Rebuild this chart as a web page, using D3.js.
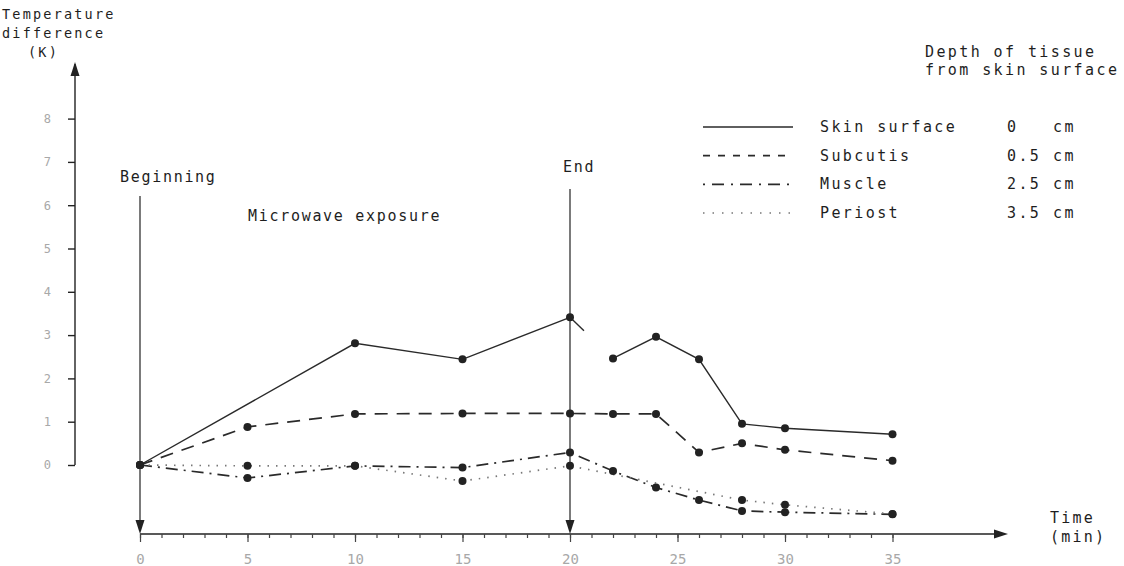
<!DOCTYPE html>
<html>
<head>
<meta charset="utf-8">
<script src="https://cdn.jsdelivr.net/npm/d3@7"></script>
<style>
  body { margin: 0; background: #fff; }
  svg text { font-family: 'DejaVu Sans Mono', monospace; fill: #1e1e1e; }
</style>
</head>
<body>
<svg id="chart" width="1124" height="566"></svg>
<script>
// time points (min)
let times = [0, 5, 10, 15, 20, 22, 24, 26, 28, 30, 35]

// temperature difference (K), null = no measurement
let skin = [0, null, 2.81, 2.44, 3.41, 2.46, 2.96, 2.44, 0.95, 0.85, 0.71]
let subcutis = [0, 0.88, 1.18, 1.19, 1.19, 1.18, 1.18, 0.29, 0.5, 0.35, 0.1]
let muscle = [0, -0.3, -0.02, -0.06, 0.29, -0.14, -0.52, -0.81, -1.06, -1.09, -1.14]
let periost = [0, -0.02, -0.02, -0.37, -0.02, null, null, null, -0.81, -0.92, -1.13]

// short stray stroke after the skin value at 20 min
let skinSpur = [[20, 3.41], [20.65, 3.1]]

let seriesNames = ['Skin surface', 'Subcutis', 'Muscle', 'Periost']
let depths = ['0', '0.5', '2.5', '3.5']

let xTicks = d3.range(0, 36)
let xLabels = d3.range(0, 36, 5)
let yTicks = d3.range(0, 9)

let svg = d3.select('#chart')

let x = d3.scaleLinear().domain([0, 35]).range([140, 892.5])
let y = d3.scaleLinear().domain([0, 8]).range([465, 118.6])

let axisY = 534
let ink = '#2a2a2a'

let styles = [
  { dash: null, width: 1.4, color: ink, legendDash: null },
  { dash: '13,9', width: 1.7, color: ink, legendDash: '7,8' },
  { dash: '12,6,2,6', width: 1.7, color: ink, legendDash: '2,7,12,7' },
  { dash: '1.5,7', width: 1.7, color: '#777', legendDash: '1.5,8' }
]

let allValues = [skin, subcutis, muscle, periost]
// the skin curve is broken between 20 and 22 min
let gapAfter = [20, null, null, null]

let line = d3.line().x(d => x(d.t)).y(d => y(d.v))

// arrowheads
function arrow(tip, dir, len, half) {
  let [tx, ty] = tip
  let pts
  if (dir === 'up') pts = [[tx, ty], [tx - half, ty + len], [tx + half, ty + len]]
  if (dir === 'down') pts = [[tx, ty], [tx - half, ty - len], [tx + half, ty - len]]
  if (dir === 'right') pts = [[tx, ty], [tx - len, ty - half], [tx - len, ty + half]]
  svg.append('path')
    .attr('d', 'M' + pts.join('L') + 'Z')
    .attr('fill', '#222')
}

// y axis
svg.append('line')
  .attr('x1', 75).attr('x2', 75)
  .attr('y1', y(0)).attr('y2', 64)
  .attr('stroke', '#222').attr('stroke-width', 1.4)
arrow([75, 62], 'up', 14, 4.5)

let yAxis = svg.append('g')
  .attr('transform', 'translate(75,0)')
  .call(d3.axisLeft(y).tickValues(yTicks).tickSize(7).tickPadding(17).tickFormat(d3.format('d')))
yAxis.select('.domain').remove()
yAxis.selectAll('line').attr('stroke', '#222').attr('stroke-width', 1.4)
yAxis.selectAll('text')
  .style('fill', '#a8a8a8')
  .attr('font-size', 12)

// x axis
svg.append('line')
  .attr('x1', x(0)).attr('x2', 1000)
  .attr('y1', axisY).attr('y2', axisY)
  .attr('stroke', '#222').attr('stroke-width', 1.4)
arrow([1008, axisY], 'right', 14, 4.5)

let xMinor = svg.append('g')
  .attr('transform', `translate(0,${axisY})`)
  .call(d3.axisBottom(x).tickValues(xTicks).tickSize(4).tickFormat(''))
xMinor.select('.domain').remove()
xMinor.selectAll('line').attr('stroke', '#444').attr('stroke-width', 1.2)

let xMajor = svg.append('g')
  .attr('transform', `translate(0,${axisY})`)
  .call(d3.axisBottom(x).tickValues(xLabels).tickSize(8).tickPadding(12).tickFormat(d3.format('d')))
xMajor.select('.domain').remove()
xMajor.selectAll('line').attr('stroke', '#444').attr('stroke-width', 1.2)
xMajor.selectAll('text')
  .style('fill', '#a8a8a8')
  .attr('font-size', 14)

// axis titles
let yTitle = svg.append('text')
  .attr('font-size', 13.5)
  .style('letter-spacing', '2.2px')
yTitle.append('tspan').attr('x', 2).attr('y', 19).text('Temperature')
yTitle.append('tspan').attr('x', 2).attr('y', 38).text('difference')
yTitle.append('tspan').attr('x', 28).attr('y', 57).text('(K)')

let xTitle = svg.append('text')
  .attr('font-size', 15)
  .style('letter-spacing', '2.2px')
xTitle.append('tspan').attr('x', 1050).attr('y', 523).text('Time')
xTitle.append('tspan').attr('x', 1050).attr('y', 542).text('(min)')

// beginning / end markers
let events = [
  { t: 0, label: 'Beginning', top: 196, labelX: 120, labelY: 182 },
  { t: 20, label: 'End', top: 189, labelX: 563, labelY: 172 }
]
events.forEach(e => {
  svg.append('line')
    .attr('x1', x(e.t)).attr('x2', x(e.t))
    .attr('y1', e.top).attr('y2', axisY - 8)
    .attr('stroke', '#333').attr('stroke-width', 1.3)
  arrow([x(e.t), axisY], 'down', 14, 4.5)
  svg.append('text')
    .attr('x', e.labelX).attr('y', e.labelY)
    .attr('font-size', 15)
    .style('letter-spacing', '1.7px')
    .text(e.label)
})

svg.append('text')
  .attr('x', 248).attr('y', 221)
  .attr('font-size', 15)
  .style('letter-spacing', '1.7px')
  .text('Microwave exposure')

// series lines
allValues.forEach((vals, i) => {
  let pts = times.map((t, j) => ({ t: t, v: vals[j] })).filter(d => d.v !== null)
  let segs = gapAfter[i] === null
    ? [pts]
    : [pts.filter(d => d.t <= gapAfter[i]), pts.filter(d => d.t > gapAfter[i])]
  segs.forEach(seg => {
    svg.append('path')
      .datum(seg)
      .attr('d', line)
      .attr('fill', 'none')
      .attr('stroke', styles[i].color)
      .attr('stroke-width', styles[i].width)
      .attr('stroke-dasharray', styles[i].dash)
  })
})

svg.append('path')
  .datum(skinSpur.map(d => ({ t: d[0], v: d[1] })))
  .attr('d', line)
  .attr('fill', 'none')
  .attr('stroke', ink)
  .attr('stroke-width', 1.4)

// markers
allValues.forEach(vals => {
  svg.selectAll(null)
    .data(times.map((t, j) => ({ t: t, v: vals[j] })).filter(d => d.v !== null))
    .enter()
    .append('circle')
    .attr('cx', d => x(d.t))
    .attr('cy', d => y(d.v))
    .attr('r', 4)
    .attr('fill', '#222')
})

// legend
let legendTitle = svg.append('text')
  .attr('font-size', 15)
  .style('letter-spacing', '2.4px')
legendTitle.append('tspan').attr('x', 925).attr('y', 57).text('Depth of tissue')
legendTitle.append('tspan').attr('x', 925).attr('y', 75).text('from skin surface')

let legendRowY = d3.scaleLinear().domain([0, 3]).range([127, 213])

seriesNames.forEach((name, i) => {
  let ly = legendRowY(i)
  svg.append('line')
    .attr('x1', 703).attr('x2', 793)
    .attr('y1', ly).attr('y2', ly)
    .attr('stroke', styles[i].color)
    .attr('stroke-width', styles[i].width)
    .attr('stroke-dasharray', styles[i].legendDash)
  svg.append('text')
    .attr('x', 820).attr('y', ly + 5)
    .attr('font-size', 15)
    .style('letter-spacing', '2.4px')
    .text(name)
  svg.append('text')
    .attr('x', 1007).attr('y', ly + 5)
    .attr('font-size', 15)
    .style('letter-spacing', '2.4px')
    .text(depths[i])
  svg.append('text')
    .attr('x', 1053).attr('y', ly + 5)
    .attr('font-size', 15)
    .style('letter-spacing', '2.4px')
    .text('cm')
})
</script>
</body>
</html>
